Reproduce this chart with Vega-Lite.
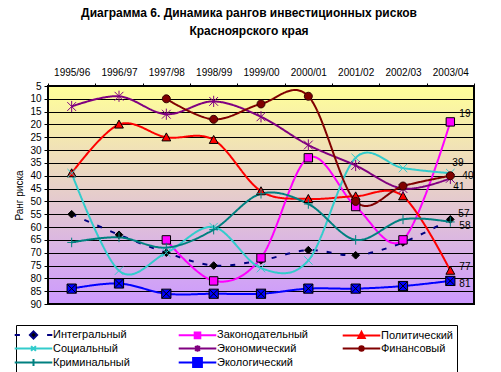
{
  "$schema": "https://vega.github.io/schema/vega-lite/v6.json",
  "width": 426,
  "height": 218,
  "autosize": {"type": "none"},
  "padding": {"left": 48, "top": 86, "right": 27, "bottom": 68},
  "background": "white",
  "title": {
    "text": ["Диаграмма 6. Динамика рангов инвестиционных рисков", "Красноярского края"],
    "font": "Liberation Sans",
    "fontSize": 12,
    "fontWeight": "bold",
    "color": "black",
    "anchor": "middle",
    "frame": "group",
    "dx": -12,
    "offset": 29,
    "lineHeight": 18
  },
  "view": {
    "fill": {
      "gradient": "linear",
      "x1": 0, "y1": 0, "x2": 0, "y2": 1,
      "stops": [
        {"offset": 0, "color": "#FFFF99"},
        {"offset": 1, "color": "#CC99FF"}
      ]
    },
    "stroke": "black",
    "strokeWidth": 2
  },
  "config": {
    "font": "Liberation Sans"
  },
  "resolve": {"scale": {"shape": "independent", "fill": "independent", "stroke": "independent"}},
  "data": {
    "values": [
      {"series": "Интегральный", "period": "1995/96", "rank": 55},
      {"series": "Интегральный", "period": "1996/97", "rank": 63},
      {"series": "Интегральный", "period": "1997/98", "rank": 70},
      {"series": "Интегральный", "period": "1998/99", "rank": 75},
      {"series": "Интегральный", "period": "1999/00", "rank": 73},
      {"series": "Интегральный", "period": "2000/01", "rank": 69},
      {"series": "Интегральный", "period": "2001/02", "rank": 71},
      {"series": "Интегральный", "period": "2002/03", "rank": 66},
      {"series": "Интегральный", "period": "2003/04", "rank": 57},
      {"series": "Законодательный", "period": "1997/98", "rank": 65},
      {"series": "Законодательный", "period": "1998/99", "rank": 81},
      {"series": "Законодательный", "period": "1999/00", "rank": 72},
      {"series": "Законодательный", "period": "2000/01", "rank": 33},
      {"series": "Законодательный", "period": "2001/02", "rank": 52},
      {"series": "Законодательный", "period": "2002/03", "rank": 65},
      {"series": "Законодательный", "period": "2003/04", "rank": 19},
      {"series": "Политический", "period": "1995/96", "rank": 39},
      {"series": "Политический", "period": "1996/97", "rank": 20},
      {"series": "Политический", "period": "1997/98", "rank": 25},
      {"series": "Политический", "period": "1998/99", "rank": 26},
      {"series": "Политический", "period": "1999/00", "rank": 46},
      {"series": "Политический", "period": "2000/01", "rank": 49},
      {"series": "Политический", "period": "2001/02", "rank": 48},
      {"series": "Политический", "period": "2002/03", "rank": 48},
      {"series": "Политический", "period": "2003/04", "rank": 77},
      {"series": "Социальный", "period": "1995/96", "rank": 39},
      {"series": "Социальный", "period": "1996/97", "rank": 77},
      {"series": "Социальный", "period": "1997/98", "rank": 70},
      {"series": "Социальный", "period": "1998/99", "rank": 60},
      {"series": "Социальный", "period": "1999/00", "rank": 76},
      {"series": "Социальный", "period": "2000/01", "rank": 73},
      {"series": "Социальный", "period": "2001/02", "rank": 33},
      {"series": "Социальный", "period": "2002/03", "rank": 37},
      {"series": "Социальный", "period": "2003/04", "rank": 39},
      {"series": "Экономический", "period": "1995/96", "rank": 13},
      {"series": "Экономический", "period": "1996/97", "rank": 9},
      {"series": "Экономический", "period": "1997/98", "rank": 16},
      {"series": "Экономический", "period": "1998/99", "rank": 11},
      {"series": "Экономический", "period": "1999/00", "rank": 17},
      {"series": "Экономический", "period": "2000/01", "rank": 28},
      {"series": "Экономический", "period": "2001/02", "rank": 36},
      {"series": "Экономический", "period": "2002/03", "rank": 45},
      {"series": "Экономический", "period": "2003/04", "rank": 41},
      {"series": "Финансовый", "period": "1997/98", "rank": 10},
      {"series": "Финансовый", "period": "1998/99", "rank": 18},
      {"series": "Финансовый", "period": "1999/00", "rank": 12},
      {"series": "Финансовый", "period": "2000/01", "rank": 9},
      {"series": "Финансовый", "period": "2001/02", "rank": 50},
      {"series": "Финансовый", "period": "2002/03", "rank": 44},
      {"series": "Финансовый", "period": "2003/04", "rank": 40},
      {"series": "Криминальный", "period": "1995/96", "rank": 66},
      {"series": "Криминальный", "period": "1996/97", "rank": 64},
      {"series": "Криминальный", "period": "1997/98", "rank": 68},
      {"series": "Криминальный", "period": "1998/99", "rank": 61},
      {"series": "Криминальный", "period": "1999/00", "rank": 47},
      {"series": "Криминальный", "period": "2000/01", "rank": 51},
      {"series": "Криминальный", "period": "2001/02", "rank": 65},
      {"series": "Криминальный", "period": "2002/03", "rank": 57},
      {"series": "Криминальный", "period": "2003/04", "rank": 58},
      {"series": "Экологический", "period": "1995/96", "rank": 84},
      {"series": "Экологический", "period": "1996/97", "rank": 82},
      {"series": "Экологический", "period": "1997/98", "rank": 86},
      {"series": "Экологический", "period": "1998/99", "rank": 86},
      {"series": "Экологический", "period": "1999/00", "rank": 86},
      {"series": "Экологический", "period": "2000/01", "rank": 84},
      {"series": "Экологический", "period": "2001/02", "rank": 84},
      {"series": "Экологический", "period": "2002/03", "rank": 83},
      {"series": "Экологический", "period": "2003/04", "rank": 81}
    ]
  },
  "encoding": {
    "x": {
      "field": "period",
      "type": "ordinal",
      "sort": ["1995/96", "1996/97", "1997/98", "1998/99", "1999/00", "2000/01", "2001/02", "2002/03", "2003/04"],
      "scale": {"type": "band", "paddingInner": 0, "paddingOuter": 0},
      "axis": {
        "orient": "top",
        "title": null,
        "labelAngle": 0,
        "tickBand": "extent",
        "tickSize": 3,
        "tickColor": "black",
        "domainColor": "black",
        "labelPadding": 6,
        "labelFontSize": 10,
        "labelColor": "black",
        "grid": false
      }
    },
    "y": {
      "field": "rank",
      "type": "quantitative",
      "scale": {"domain": [5, 90], "reverse": true, "nice": false, "zero": false},
      "axis": {
        "title": "Ранг риска",
        "titleFontSize": 10,
        "titleFontWeight": "normal",
        "titleColor": "black",
        "titlePadding": 5,
        "values": [5, 10, 15, 20, 25, 30, 35, 40, 45, 50, 55, 60, 65, 70, 75, 80, 85, 90],
        "grid": true,
        "gridColor": "black",
        "gridOpacity": 1,
        "gridWidth": 1,
        "tickSize": 4,
        "tickColor": "black",
        "domainColor": "black",
        "labelPadding": 3,
        "labelFontSize": 10,
        "labelColor": "black",
        "labelOverlap": false,
        "labelFlush": false
      }
    }
  },
  "layer": [
    {
      "transform": [{"filter": "false"}],
      "mark": {"type": "point", "opacity": 1, "strokeWidth": 2, "size": 64},
      "encoding": {
        "shape": {
          "field": "series",
          "type": "nominal",
          "scale": {
            "domain": ["Интегральный", "Законодательный", "Политический", "Социальный", "Экономический", "Финансовый", "Криминальный", "Экологический"],
            "range": [
              "M-4.7,0H-3.4M3.4,0H4.7M0,-0.9L0.9,0L0,0.9L-0.9,0Z",
              "M-4.7,0H4.7M-0.7,-0.7H0.7V0.7H-0.7Z",
              "M-4.7,0H4.7M0,-0.9L0.8,0.6H-0.8Z",
              "M-4.7,0H4.7M-0.6,-0.6L0.6,0.6M-0.6,0.6L0.6,-0.6",
              "M-4.7,0H4.7M-0.6,-0.6L0.6,0.6M-0.6,0.6L0.6,-0.6M0,-0.8V0.8",
              "M-4.7,0H4.7M-0.55,0A0.55,0.55,0,1,0,0.55,0A0.55,0.55,0,1,0,-0.55,0",
              "M-4.7,0H4.7M0,-0.9V0.9",
              "M-4.7,0H4.7M-1.1,-1.1H1.1V1.1H-1.1ZM-1.1,-1.1L1.1,1.1M-1.1,1.1L1.1,-1.1"
            ]
          },
          "legend": {
            "orient": "none",
            "legendX": -32,
            "legendY": 239,
            "title": null,
            "direction": "horizontal",
            "columns": 3,
            "gridAlign": "all",
            "columnPadding": 29,
            "rowPadding": -14,
            "padding": 4,
            "strokeColor": "black",
            "fillColor": "white",
            "labelFont": "Liberation Sans",
            "labelFontSize": 11,
            "labelColor": "black",
            "labelLimit": 300,
            "symbolSize": 64,
            "symbolStrokeWidth": 2,
            "symbolOpacity": 1,
            "symbolOffset": 8,
            "labelOffset": 14
          }
        },
        "fill": {
          "field": "series",
          "type": "nominal",
          "scale": {
            "domain": ["Интегральный", "Законодательный", "Политический", "Социальный", "Экономический", "Финансовый", "Криминальный", "Экологический"],
            "range": ["#000000", "#FF00FF", "#FF0000", "transparent", "transparent", "#800000", "transparent", "#0000FF"]
          },
          "legend": null
        },
        "stroke": {
          "field": "series",
          "type": "nominal",
          "scale": {
            "domain": ["Интегральный", "Законодательный", "Политический", "Социальный", "Экономический", "Финансовый", "Криминальный", "Экологический"],
            "range": ["#000080", "#FF00FF", "#FF0000", "#33CCCC", "#800080", "#800000", "#008080", "#0000FF"]
          },
          "legend": null
        }
      }
    },
    {
      "mark": {"type": "line", "interpolate": "cardinal", "strokeWidth": 2},
      "encoding": {
        "color": {
          "field": "series",
          "type": "nominal",
          "scale": {
            "domain": ["Интегральный", "Законодательный", "Политический", "Социальный", "Экономический", "Финансовый", "Криминальный", "Экологический"],
            "range": ["#000080", "#FF00FF", "#FF0000", "#33CCCC", "#800080", "#800000", "#008080", "#0000FF"]
          },
          "legend": null
        },
        "strokeDash": {
          "field": "series",
          "type": "nominal",
          "scale": {
            "domain": ["Интегральный", "Законодательный", "Политический", "Социальный", "Экономический", "Финансовый", "Криминальный", "Экологический"],
            "range": [[5, 9], [1, 0], [1, 0], [1, 0], [1, 0], [1, 0], [1, 0], [1, 0]]
          },
          "legend": null
        }
      }
    },
    {
      "mark": {"type": "point", "opacity": 1, "strokeWidth": 1, "size": 64},
      "encoding": {
        "shape": {
          "field": "series",
          "type": "nominal",
          "scale": {
            "domain": ["Интегральный", "Законодательный", "Политический", "Социальный", "Экономический", "Финансовый", "Криминальный", "Экологический"],
            "range": [
              "M0,-0.95L0.95,0L0,0.95L-0.95,0Z",
              "M-1.05,-1.05H1.05V1.05H-1.05Z",
              "M0,-1.1L1.1,0.9H-1.1Z",
              "M-1.05,-1.05L1.05,1.05M-1.05,1.05L1.05,-1.05",
              "M-1.1,-1.1L1.1,1.1M-1.1,1.1L1.1,-1.1M0,-1.4V1.4",
              "M-1,0A1,1,0,1,0,1,0A1,1,0,1,0,-1,0",
              "M-1.1,0H1.1M0,-1.2V1.2",
              "M-1.15,-1.15H1.15V1.15H-1.15ZM-1.15,-1.15L1.15,1.15M-1.15,1.15L1.15,-1.15"
            ]
          },
          "legend": null
        },
        "fill": {
          "field": "series",
          "type": "nominal",
          "scale": {
            "domain": ["Интегральный", "Законодательный", "Политический", "Социальный", "Экономический", "Финансовый", "Криминальный", "Экологический"],
            "range": ["#000000", "#FF00FF", "#FF0000", "transparent", "transparent", "#800000", "transparent", "#0000FF"]
          },
          "legend": null
        },
        "stroke": {
          "field": "series",
          "type": "nominal",
          "scale": {
            "domain": ["Интегральный", "Законодательный", "Политический", "Социальный", "Экономический", "Финансовый", "Криминальный", "Экологический"],
            "range": ["#000000", "#000000", "#000000", "#33CCCC", "#800080", "#330000", "#008080", "#000000"]
          },
          "legend": null
        }
      }
    },
    {
      "transform": [{"filter": "datum.series === 'Законодательный' && datum.period === '2003/04'"}],
      "mark": {"type": "text", "align": "left", "baseline": "middle", "dx": 9, "dy": -8, "fontSize": 10, "color": "black"},
      "encoding": {"text": {"field": "rank", "type": "quantitative"}}
    },
    {
      "transform": [{"filter": "datum.series === 'Социальный' && datum.period === '2003/04'"}],
      "mark": {"type": "text", "align": "left", "baseline": "middle", "dx": 2, "dy": -10, "fontSize": 10, "color": "black"},
      "encoding": {"text": {"field": "rank", "type": "quantitative"}}
    },
    {
      "transform": [{"filter": "datum.series === 'Финансовый' && datum.period === '2003/04'"}],
      "mark": {"type": "text", "align": "left", "baseline": "middle", "dx": 12, "dy": 0, "fontSize": 10, "color": "black"},
      "encoding": {"text": {"field": "rank", "type": "quantitative"}}
    },
    {
      "transform": [{"filter": "datum.series === 'Экономический' && datum.period === '2003/04'"}],
      "mark": {"type": "text", "align": "left", "baseline": "middle", "dx": 3, "dy": 9, "fontSize": 10, "color": "black"},
      "encoding": {"text": {"field": "rank", "type": "quantitative"}}
    },
    {
      "transform": [{"filter": "datum.series === 'Интегральный' && datum.period === '2003/04'"}],
      "mark": {"type": "text", "align": "left", "baseline": "middle", "dx": 8, "dy": -5, "fontSize": 10, "color": "black"},
      "encoding": {"text": {"field": "rank", "type": "quantitative"}}
    },
    {
      "transform": [{"filter": "datum.series === 'Криминальный' && datum.period === '2003/04'"}],
      "mark": {"type": "text", "align": "left", "baseline": "middle", "dx": 9, "dy": 4, "fontSize": 10, "color": "black"},
      "encoding": {"text": {"field": "rank", "type": "quantitative"}}
    },
    {
      "transform": [{"filter": "datum.series === 'Политический' && datum.period === '2003/04'"}],
      "mark": {"type": "text", "align": "left", "baseline": "middle", "dx": 9, "dy": -4, "fontSize": 10, "color": "black"},
      "encoding": {"text": {"field": "rank", "type": "quantitative"}}
    },
    {
      "transform": [{"filter": "datum.series === 'Экологический' && datum.period === '2003/04'"}],
      "mark": {"type": "text", "align": "left", "baseline": "middle", "dx": 9, "dy": 3, "fontSize": 10, "color": "black"},
      "encoding": {"text": {"field": "rank", "type": "quantitative"}}
    }
  ]
}
